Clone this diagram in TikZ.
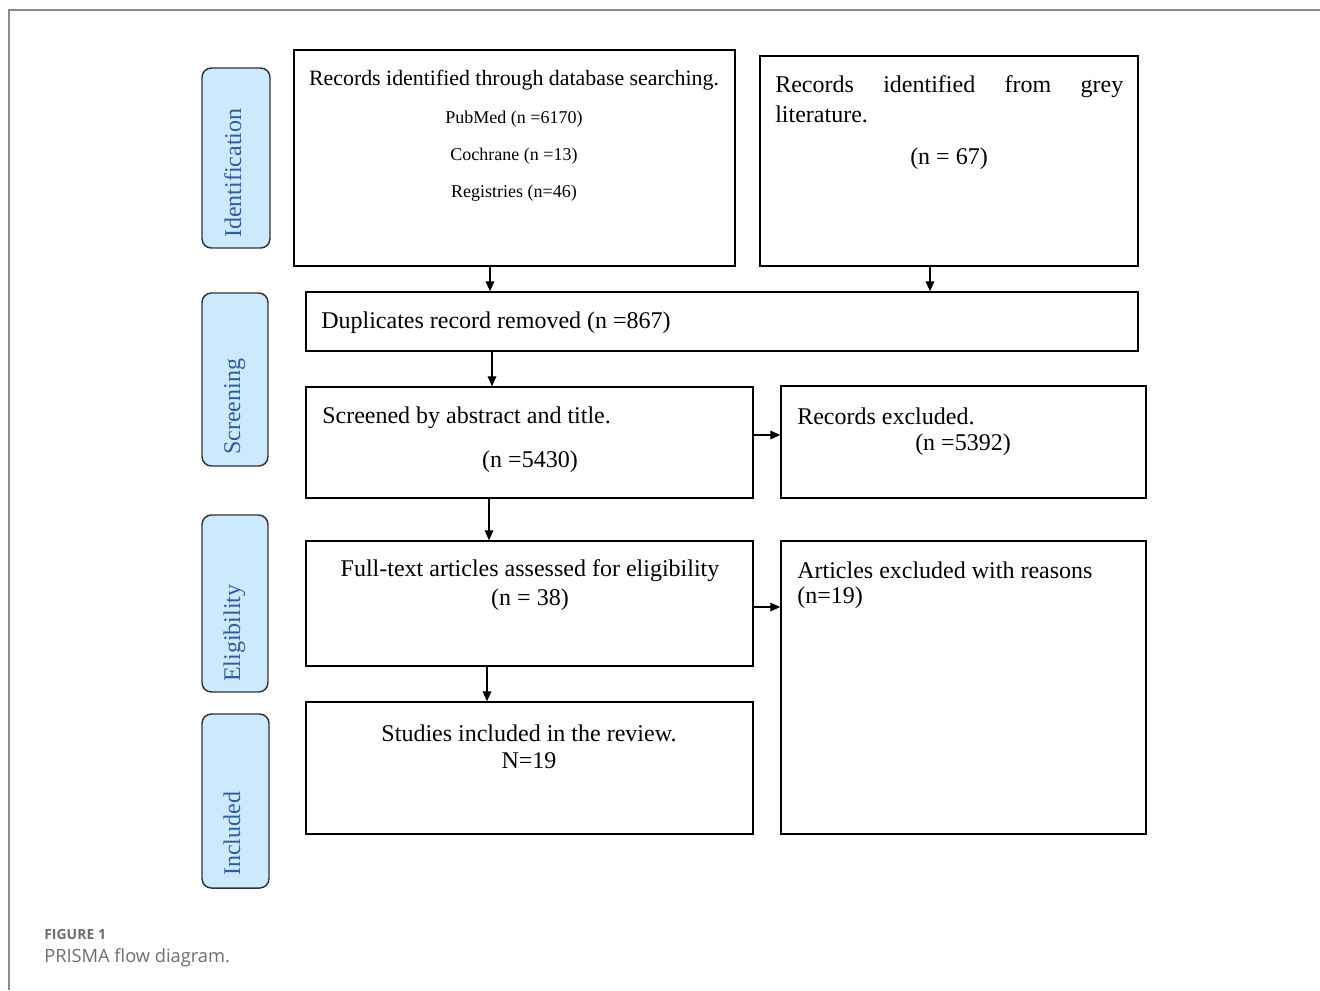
\documentclass[tikz,border=0pt]{standalone}
\usepackage{fontspec}
\setmainfont{Liberation Serif}
\newfontfamily\capfont{Open Sans}
\usetikzlibrary{arrows.meta,fit}
\definecolor{lblfill}{HTML}{CDE9FD}
\definecolor{lbltext}{HTML}{2F5E9E}
\definecolor{framegray}{HTML}{8A8A8A}
\definecolor{capgray}{HTML}{6E6E6E}
\begin{document}
\begin{tikzpicture}[x=0.75pt,y=-0.75pt,
  box/.style={draw=black,line width=1.1pt,inner sep=0pt},
  phase/.style={draw=black!80,line width=1.1pt,fill=lblfill,rounded corners=7pt,inner sep=0pt},
  phasetext/.style={rotate=90,anchor=base west,inner sep=0pt,text=lbltext,font=\fontsize{18}{20}\selectfont},
  txt/.style={inner sep=0pt,font=\fontsize{18}{21}\selectfont},
  txts/.style={inner sep=0pt,font=\fontsize{16.4}{19}\selectfont},
  txtxs/.style={inner sep=0pt,font=\fontsize{13.5}{15}\selectfont},
  arr/.style={-{Triangle[length=7.5pt,width=6.5pt]},line width=0.9pt}]
\useasboundingbox (0,0) rectangle (1320,990);
% frame
\draw[framegray,line width=0.8pt] (9,990) -- (9,10) -- (1320,10);
% phase labels
\node[phase,fit={(202,68)(270,248)}] (pI) {};
\node[phasetext] (tI) at (241,238) {Identification};
\node[phase,fit={(202,293)(268,466)}] (pS) {};
\node[phasetext] (tS) at (240,455) {Screening};
\node[phase,fit={(202,515)(268,692)}] (pE) {};
\node[phasetext] (tE) at (240,682) {Eligibility};
\node[phase,fit={(202,714)(269,888)}] (pN) {};
\node[phasetext] (tN) at (240,876) {Included};
% boxes
\node[box,fit={(294,50)(735,266)}] (A) {};
\node[box,fit={(760,56)(1138,266)}] (B) {};
\node[box,fit={(306,292)(1138,351)}] (D) {};
\node[box,fit={(306,387)(753,498)}] (S) {};
\node[box,fit={(781,386)(1146,498)}] (X) {};
\node[box,fit={(306,541)(753,666)}] (F) {};
\node[box,fit={(781,541)(1146,834)}] (R) {};
\node[box,fit={(306,702)(753,834)}] (I) {};
% texts
\node[txts] (a1) at (514,80) {Records identified through database searching.};
\node[txtxs] (a2) at (514,119) {PubMed (n =6170)};
\node[txtxs] (a3) at (514,156) {Cochrane (n =13)};
\node[txtxs] (a4) at (514,193) {Registries (n=46)};
\node[txt,anchor=north west,align=left] (b1) at (775,75)
  {\hbox to 261pt{Records\hfill identified\hfill from\hfill grey}\\[1.5pt]literature.};
\node[txt] (b2) at (949,159) {(n = 67)};
\node[txt,anchor=west] (d1) at (321,323) {Duplicates record removed (n =867)};
\node[txt,anchor=west] (s1) at (322,418) {Screened by abstract and title.};
\node[txt] (s2) at (530,462) {(n =5430)};
\node[txt,anchor=west] (x1) at (797,416) {Records excluded.};
\node[txt] (x2) at (963,445) {(n =5392)};
\node[txt] (f1) at (530,571) {Full-text articles assessed for eligibility};
\node[txt] (f2) at (530,600) {(n = 38)};
\node[txt,anchor=west] (r1) at (797,570) {Articles excluded with reasons};
\node[txt,anchor=west] (r2) at (797,598) {(n=19)};
\node[txt] (i1) at (529,733) {Studies included in the review.};
\node[txt] (i2) at (529,761) {N=19};
% arrows
\coordinate (c1) at (490,0);
\coordinate (c2) at (930,0);
\coordinate (c3) at (492,0);
\coordinate (c4) at (489,0);
\coordinate (c5) at (487,0);
\coordinate (c6) at (0,435);
\coordinate (c7) at (0,607);
\draw[arr] (A.south -| c1) -- (D.north -| c1);
\draw[arr] (B.south -| c2) -- (D.north -| c2);
\draw[arr] (D.south -| c3) -- (S.north -| c3);
\draw[arr] (S.south -| c4) -- (F.north -| c4);
\draw[arr] (F.south -| c5) -- (I.north -| c5);
\draw[arr] (S.east |- c6) -- (X.west |- c6);
\draw[arr] (F.east |- c7) -- (R.west |- c7);
% caption
\node[anchor=west,inner sep=0pt,text=capgray,font=\capfont\fontsize{10.5}{12}\selectfont\bfseries] (cap1) at (44,934) {FIGURE 1};
\node[anchor=west,inner sep=0pt,text=capgray,font=\capfont\fontsize{13.7}{15}\selectfont] (cap2) at (44,958) {PRISMA flow diagram.};
\end{tikzpicture}
\end{document}
